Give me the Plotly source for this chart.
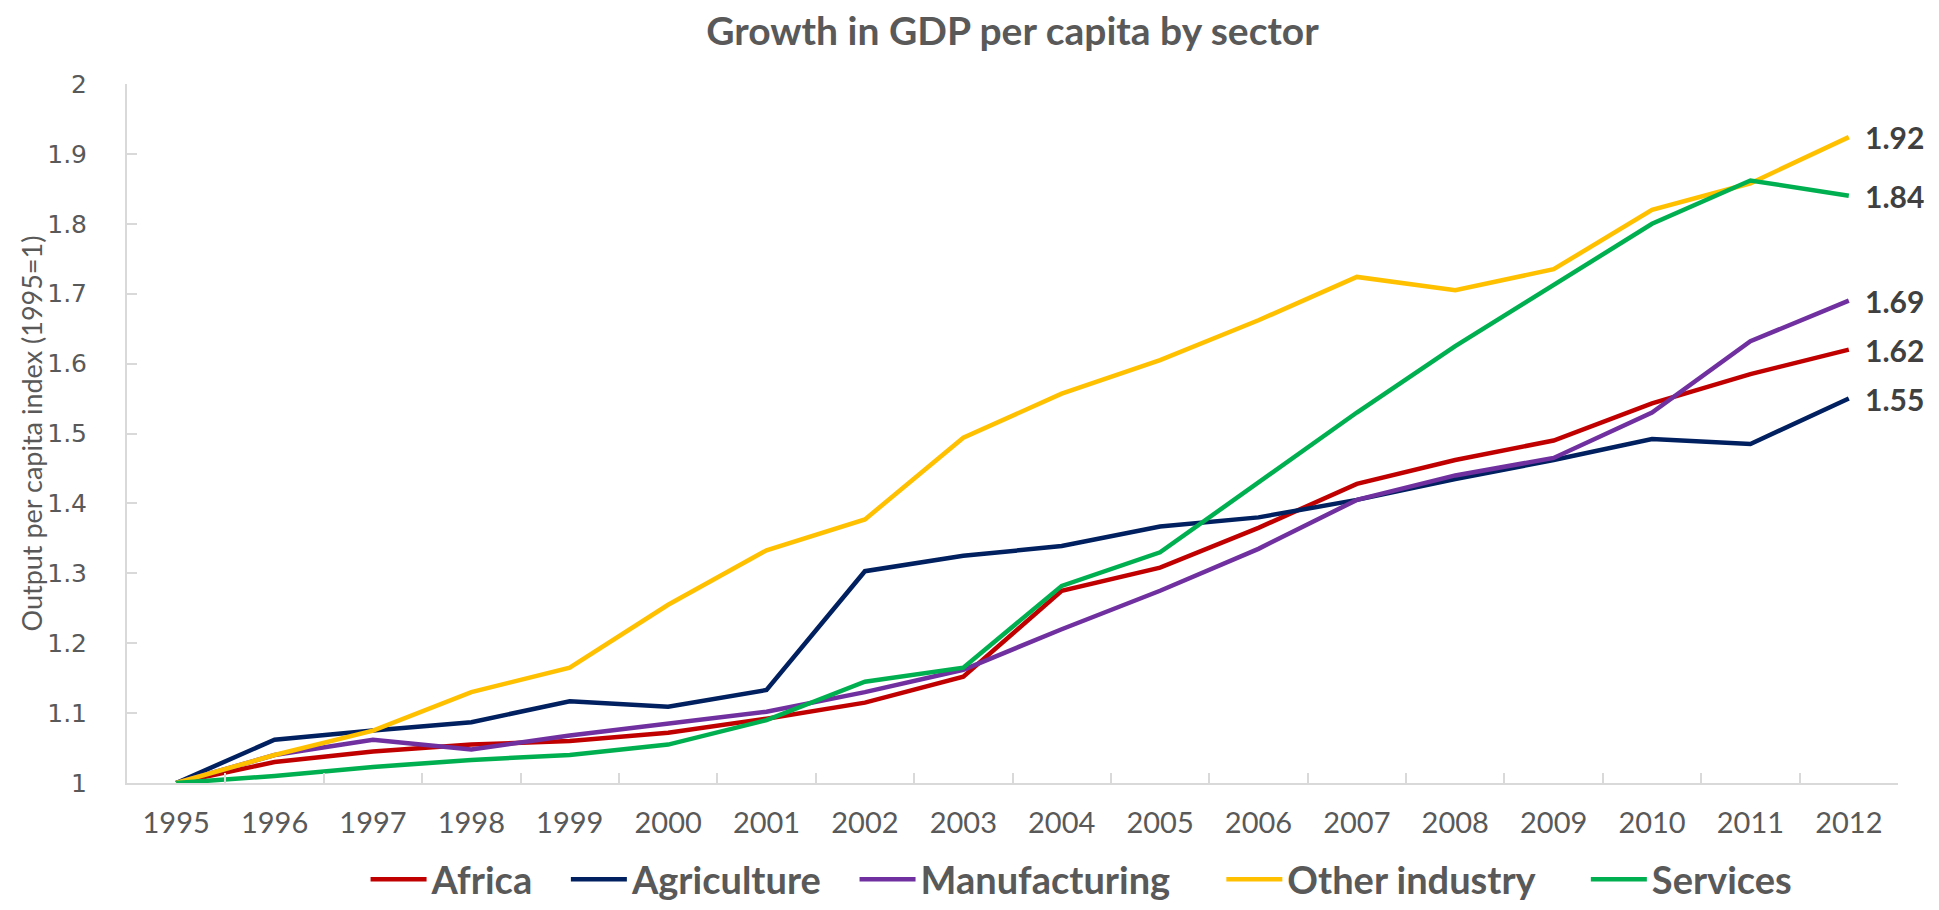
import plotly.graph_objects as go

years = [str(y) for y in range(1995, 2013)]
africa = [1.0, 1.03, 1.045, 1.055, 1.06, 1.072, 1.092, 1.115, 1.152, 1.275, 1.308, 1.365, 1.428, 1.462, 1.49, 1.543, 1.585, 1.62]
agriculture = [1.0, 1.062, 1.075, 1.087, 1.117, 1.109, 1.133, 1.303, 1.325, 1.339, 1.367, 1.38, 1.405, 1.435, 1.462, 1.492, 1.485, 1.55]
manufacturing = [1.0, 1.04, 1.062, 1.048, 1.068, 1.085, 1.102, 1.13, 1.162, 1.22, 1.275, 1.335, 1.405, 1.44, 1.465, 1.53, 1.632, 1.69]
other_industry = [1.0, 1.04, 1.075, 1.13, 1.165, 1.255, 1.333, 1.377, 1.494, 1.557, 1.605, 1.662, 1.724, 1.705, 1.735, 1.82, 1.858, 1.924]
services = [1.0, 1.01, 1.023, 1.033, 1.04, 1.055, 1.09, 1.145, 1.165, 1.282, 1.33, 1.43, 1.53, 1.625, 1.713, 1.80, 1.862, 1.84]

series = [
    ("Africa", africa, "#C00000"),
    ("Agriculture", agriculture, "#002060"),
    ("Manufacturing", manufacturing, "#7030A0"),
    ("Other industry", other_industry, "#FFC000"),
    ("Services", services, "#00B050"),
]
end_labels = ["1.62", "1.55", "1.69", "1.92", "1.84"]
legend_pad = [3, 3, 5, 5, 0]  # trailing non-breaking spaces to space legend entries

fnt = "Lato, Carlito, Open Sans, sans-serif"
grey = "#595959"

fig = go.Figure()
for (name, vals, col), pad in zip(series, legend_pad):
    fig.add_trace(go.Scatter(x=years, y=vals, mode="lines", name=name + "\u00a0" * pad,
                             line=dict(color=col, width=4.5)))

last = len(years) - 1
for (name, vals, col), lab in zip(series, end_labels):
    fig.add_annotation(x=last, y=vals[-1], xref="x", yref="y", text="<b>%s</b>" % lab,
                       showarrow=False, xanchor="left", xshift=14,
                       font=dict(family=fnt, size=30, color="#404040"))

# page body has an 8px margin, so the figure is 16px smaller than the window
W, H = 1923, 894
L, R, T, B = 119, 33, 76, 119
fig.add_annotation(text="Output per capita index (1995=1)", xref="paper", yref="paper",
                   x=(23 - L) / (W - L - R), y=0.5, xanchor="center", yanchor="middle",
                   textangle=-90, showarrow=False,
                   font=dict(family=fnt, size=27, color=grey))

fig.update_layout(
    width=W, height=H,
    paper_bgcolor="white", plot_bgcolor="white",
    margin=dict(l=L, r=R, t=T, b=B, autoexpand=False),
    title=dict(text="<b>Growth in GDP per capita by sector</b>", xref="paper", x=0.5,
               xanchor="center", y=1 - 23 / H, yanchor="middle",
               font=dict(family=fnt, size=39, color=grey)),
    showlegend=True,
    legend=dict(orientation="h", x=0.539, xanchor="center", y=-0.138, yanchor="middle",
                font=dict(family=fnt, size=38, color=grey, weight="bold"),
                itemwidth=56, traceorder="normal"),
    xaxis=dict(type="category", range=[-0.5, last + 0.5], showgrid=False, showline=True,
               linecolor="#D9D9D9", linewidth=2,
               ticks="inside", tickson="boundaries", ticklen=10, tickcolor="#D9D9D9", tickwidth=2,
               tickfont=dict(family=fnt, size=29, color=grey), ticklabelstandoff=13),
    yaxis=dict(range=[1, 2], dtick=0.1, showgrid=False, zeroline=False, showline=True,
               linecolor="#D9D9D9", linewidth=2, ticks="inside", ticklen=10, tickcolor="#D9D9D9",
               tickwidth=2, tickformat="~g", ticklabelstandoff=33,
               tickfont=dict(family="DejaVu Sans, sans-serif", size=25, color=grey)),
)

fig.write_html("out.html")
